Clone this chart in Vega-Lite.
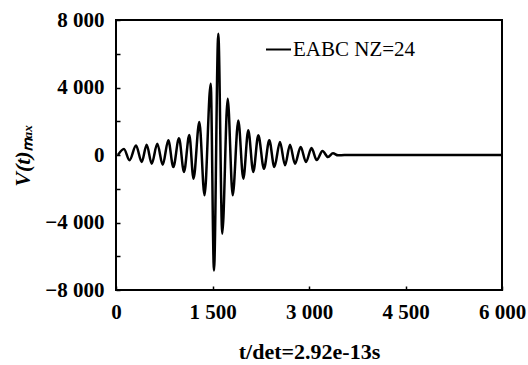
{
  "$schema": "https://vega.github.io/schema/vega-lite/v6.json",
  "width": 386,
  "height": 270,
  "autosize": {"type": "none"},
  "padding": {"left": 116, "top": 20, "right": 26, "bottom": 75},
  "background": "white",
  "config": {
    "view": {"stroke": "black", "strokeWidth": 2},
    "axis": {
      "domain": false,
      "grid": false,
      "tickColor": "black",
      "tickWidth": 1.5,
      "labelColor": "black",
      "labelFont": "Liberation Serif",
      "labelFontWeight": "bold",
      "labelFontSize": 21,
      "titleColor": "black",
      "titleFont": "Liberation Serif",
      "titleFontSize": 22,
      "titleFontWeight": "bold"
    }
  },
  "data": {
    "values": [
      {"t": 30, "v": 0, "series": "EABC NZ=24"},
      {"t": 124, "v": 355, "series": "EABC NZ=24"},
      {"t": 210, "v": -315, "series": "EABC NZ=24"},
      {"t": 311, "v": 560, "series": "EABC NZ=24"},
      {"t": 400, "v": -415, "series": "EABC NZ=24"},
      {"t": 477, "v": 610, "series": "EABC NZ=24"},
      {"t": 555, "v": -515, "series": "EABC NZ=24"},
      {"t": 642, "v": 670, "series": "EABC NZ=24"},
      {"t": 726, "v": -575, "series": "EABC NZ=24"},
      {"t": 813, "v": 870, "series": "EABC NZ=24"},
      {"t": 891, "v": -710, "series": "EABC NZ=24"},
      {"t": 979, "v": 1000, "series": "EABC NZ=24"},
      {"t": 1057, "v": -1000, "series": "EABC NZ=24"},
      {"t": 1139, "v": 1180, "series": "EABC NZ=24"},
      {"t": 1205, "v": -1400, "series": "EABC NZ=24"},
      {"t": 1295, "v": 1950, "series": "EABC NZ=24"},
      {"t": 1376, "v": -2385, "series": "EABC NZ=24"},
      {"t": 1472, "v": 4220, "series": "EABC NZ=24"},
      {"t": 1523, "v": -6850, "series": "EABC NZ=24"},
      {"t": 1590, "v": 7180, "series": "EABC NZ=24"},
      {"t": 1652, "v": -4660, "series": "EABC NZ=24"},
      {"t": 1736, "v": 3330, "series": "EABC NZ=24"},
      {"t": 1814, "v": -2385, "series": "EABC NZ=24"},
      {"t": 1901, "v": 2050, "series": "EABC NZ=24"},
      {"t": 1979, "v": -1400, "series": "EABC NZ=24"},
      {"t": 2056, "v": 1460, "series": "EABC NZ=24"},
      {"t": 2134, "v": -1000, "series": "EABC NZ=24"},
      {"t": 2212, "v": 1170, "series": "EABC NZ=24"},
      {"t": 2300, "v": -810, "series": "EABC NZ=24"},
      {"t": 2383, "v": 870, "series": "EABC NZ=24"},
      {"t": 2461, "v": -710, "series": "EABC NZ=24"},
      {"t": 2549, "v": 770, "series": "EABC NZ=24"},
      {"t": 2627, "v": -610, "series": "EABC NZ=24"},
      {"t": 2705, "v": 610, "series": "EABC NZ=24"},
      {"t": 2782, "v": -515, "series": "EABC NZ=24"},
      {"t": 2871, "v": 470, "series": "EABC NZ=24"},
      {"t": 2953, "v": -415, "series": "EABC NZ=24"},
      {"t": 3039, "v": 410, "series": "EABC NZ=24"},
      {"t": 3120, "v": -300, "series": "EABC NZ=24"},
      {"t": 3210, "v": 240, "series": "EABC NZ=24"},
      {"t": 3295, "v": -120, "series": "EABC NZ=24"},
      {"t": 3373, "v": 100, "series": "EABC NZ=24"},
      {"t": 3451, "v": -20, "series": "EABC NZ=24"},
      {"t": 3550, "v": 0, "series": "EABC NZ=24"},
      {"t": 6000, "v": 0, "series": "EABC NZ=24"}
    ]
  },
  "mark": {"type": "line", "interpolate": "monotone", "strokeWidth": 2.5},
  "encoding": {
    "x": {
      "field": "t",
      "type": "quantitative",
      "scale": {"domain": [0, 6000], "nice": false, "zero": false},
      "axis": {
        "values": [0, 1500, 3000, 4500, 6000],
        "tickSize": -4,
        "labelPadding": 15,
        "labelExpr": "replace(format(datum.value, ','), ',', ' ')",
        "labelFlush": false,
        "title": "t/det=2.92e-13s",
        "titlePadding": 19
      }
    },
    "y": {
      "field": "v",
      "type": "quantitative",
      "scale": {"domain": [-8000, 8000], "nice": false},
      "axis": {
        "values": [-8000, -6000, -4000, -2000, 0, 2000, 4000, 6000, 8000],
        "tickSize": -4,
        "labelPadding": 16,
        "labelExpr": "datum.value % 4000 === 0 ? replace(format(datum.value, ','), ',', ' ') : ''",
        "title": "V(t)ₘₐₓ",
        "titleFontStyle": "italic",
        "titlePadding": 10
      }
    },
    "color": {
      "field": "series",
      "type": "nominal",
      "scale": {"range": ["black"]},
      "legend": {
        "orient": "none",
        "legendX": 149,
        "legendY": 16,
        "title": null,
        "padding": 0,
        "symbolType": "stroke",
        "symbolSize": 625,
        "symbolStrokeWidth": 2,
        "labelOffset": 1,
        "labelFont": "Liberation Serif",
        "labelFontSize": 21,
        "labelColor": "black",
        "labelLimit": 300
      }
    }
  }
}
